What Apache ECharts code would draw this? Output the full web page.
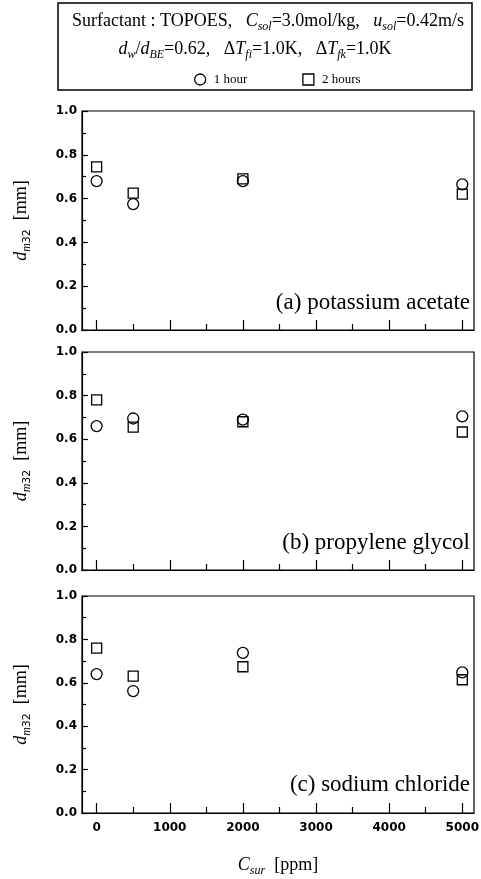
<!DOCTYPE html>
<html><head><meta charset="utf-8">
<script src="https://cdn.jsdelivr.net/npm/echarts@6/dist/echarts.min.js"></script>
<style>html,body{margin:0;padding:0;background:#fff}#c{width:481px;height:879px}</style>
</head><body><div id="c"></div>
<script>
// ---- data ----
const concentrations = [0, 500, 2000, 5000];
const potassiumAcetate1h = [0.68, 0.575, 0.68, 0.665];
const potassiumAcetate2h = [0.745, 0.625, 0.69, 0.62];
const propyleneGlycol1h = [0.66, 0.695, 0.69, 0.705];
const propyleneGlycol2h = [0.78, 0.655, 0.68, 0.633];
const sodiumChloride1h = [0.64, 0.562, 0.738, 0.648];
const sodiumChloride2h = [0.76, 0.631, 0.674, 0.614];
const panelLabels = ['(a) potassium acetate', '(b) propylene glycol', '(c) sodium chloride'];
const seriesNames = ['1 hour', '2 hours'];
const xTickLabels = [0, 1000, 2000, 3000, 4000, 5000];
const xMinorTicks = [500, 1500, 2500, 3500, 4500];
const yTickLabels = [0.0, 0.2, 0.4, 0.6, 0.8, 1.0];

// ---- layout ----
const SERIF = '"Liberation Serif", "Times New Roman", serif';
const SANS = '"DejaVu Sans", sans-serif';
const panels = [
  { h1: potassiumAcetate1h, h2: potassiumAcetate2h, top: 111, height: 219, labelY: 303 },
  { h1: propyleneGlycol1h, h2: propyleneGlycol2h, top: 352, height: 218, labelY: 543 },
  { h1: sodiumChloride1h, h2: sodiumChloride2h, top: 596, height: 217, labelY: 785 }
];
const GL = 82, GW = 392;

function rich(fs, sub) {
  return {
    n: { fontFamily: SERIF, fontSize: fs, color: '#000', lineHeight: fs + 6 },
    i: { fontFamily: SERIF, fontSize: fs, fontStyle: 'italic', color: '#000', lineHeight: fs + 6 },
    sub: { fontFamily: SERIF, fontSize: sub, fontStyle: 'italic', color: '#000', verticalAlign: 'bottom', lineHeight: sub + 3 },
    subs: { fontFamily: SANS, fontSize: sub - 1, color: '#000', verticalAlign: 'bottom', lineHeight: sub + 3 }
  };
}

const grid = [], xAxis = [], yAxis = [], series = [], graphic = [];
panels.forEach((p, k) => {
  grid.push({ left: GL, width: GW, top: p.top, height: p.height, show: true,
    borderColor: '#000', borderWidth: 1.2, backgroundColor: 'transparent', containLabel: false, outerBoundsMode: 'none' });
  const last = k === panels.length - 1;
  xAxis.push({
    type: 'value', gridIndex: k, position: 'bottom', min: -200, max: 5160,
    axisLine: { show: true, onZero: false, lineStyle: { color: '#000', width: 1.2 } },
    axisTick: { show: true, inside: true, length: 10, customValues: xTickLabels, lineStyle: { color: '#000', width: 1.2 } },
    axisLabel: { show: last, customValues: xTickLabels, margin: 9, fontFamily: SANS, fontWeight: 'bold', fontSize: 12, color: '#000',
      formatter: v => String(v) },
    splitLine: { show: false },
    name: last ? '{i|C}{sub|sur}{n|  [ppm]}' : '', nameLocation: 'middle', nameGap: 40,
    nameTextStyle: { rich: rich(18, 12) }
  });
  xAxis.push({
    type: 'value', gridIndex: k, position: 'bottom', min: -200, max: 5160,
    axisLine: { show: false, onZero: false },
    axisTick: { show: true, inside: true, length: 6, customValues: xMinorTicks, lineStyle: { color: '#000', width: 1.2 } },
    axisLabel: { show: false }, splitLine: { show: false }
  });
  yAxis.push({
    type: 'value', gridIndex: k, min: 0, max: 1, interval: 0.2,
    axisLine: { show: true, onZero: false, lineStyle: { color: '#000', width: 1.2 } },
    axisTick: { show: true, inside: true, length: 6, lineStyle: { color: '#000', width: 1.2 } },
    minorTick: { show: true, splitNumber: 2, length: 4, lineStyle: { color: '#000', width: 1.2 } },
    axisLabel: { margin: 5, fontFamily: SANS, fontWeight: 'bold', fontSize: 12, color: '#000',
      formatter: v => v.toFixed(1) },
    splitLine: { show: false },
    name: '{i|d}{sub|m}{subs|32}{n|  [mm]}', nameLocation: 'middle', nameRotate: 90, nameGap: 49,
    nameTextStyle: { rich: rich(18, 12) }
  });
  series.push({
    name: seriesNames[0], type: 'scatter', xAxisIndex: 2 * k, yAxisIndex: k,
    symbol: 'circle', symbolSize: 11,
    itemStyle: { color: 'rgba(255,255,255,0)', borderColor: '#000', borderWidth: 1.3, opacity: 1 },
    data: concentrations.map((x, i) => [x, p.h1[i]]), z: 3
  });
  series.push({
    name: seriesNames[1], type: 'scatter', xAxisIndex: 2 * k, yAxisIndex: k,
    symbol: 'rect', symbolSize: 10,
    itemStyle: { color: 'rgba(255,255,255,0)', borderColor: '#000', borderWidth: 1.3, opacity: 1 },
    data: concentrations.map((x, i) => [x, p.h2[i]]), z: 3
  });
  graphic.push({
    type: 'text', x: 470, y: p.labelY,
    style: { text: panelLabels[k], fontFamily: SERIF, fontSize: 23, fill: '#000', align: 'right', verticalAlign: 'middle' }
  });
});

// header box
graphic.push({ type: 'rect', shape: { x: 58, y: 3, width: 414, height: 87 },
  style: { fill: 'none', stroke: '#000', lineWidth: 1.5 } });
graphic.push({ type: 'text', x: 268, y: 21,
  style: { text: '{n|Surfactant : TOPOES,   }{i|C}{sub|sol}{n|=3.0mol/kg,   }{i|u}{sub|sol}{n|=0.42m/s}',
    rich: rich(18, 12), align: 'center', verticalAlign: 'middle' } });
graphic.push({ type: 'text', x: 255, y: 49,
  style: { text: '{i|d}{sub|w}{n|/}{i|d}{sub|BE}{n|=0.62,   Δ}{i|T}{sub|fi}{n|=1.0K,   Δ}{i|T}{sub|fk}{n|=1.0K}',
    rich: rich(18, 12), align: 'center', verticalAlign: 'middle' } });

const chart = echarts.init(document.getElementById('c'), null, { renderer: 'canvas' });
chart.setOption({
  animation: false,
  backgroundColor: '#fff',
  legend: {
    data: seriesNames, left: 189, top: 68, itemWidth: 11, itemHeight: 11, itemGap: 55,
    itemStyle: { borderWidth: 1.3 },
    textStyle: { fontFamily: SERIF, fontSize: 13, color: '#000', padding: [0, 0, 0, 3] },
    selectedMode: false
  },
  grid, xAxis, yAxis, series, graphic
});
</script>
</body></html>
